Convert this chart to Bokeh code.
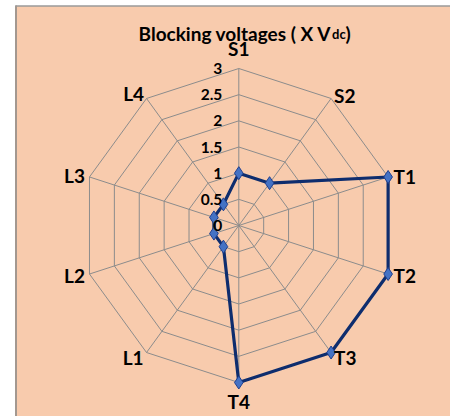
import numpy as np
from bokeh.plotting import figure
from bokeh.models import Range1d, ColumnDataSource
from bokeh.embed import file_html
from bokeh.resources import INLINE
from bokeh.core.properties import value

# ---- data ----
categories = ["S1", "S2", "T1", "T2", "T3", "T4", "L1", "L2", "L3", "L4"]
voltages = [1, 1, 3, 3, 3, 3, 0.5, 0.5, 0.5, 0.5]
ring_levels = [0.5, 1, 1.5, 2, 2.5, 3]
tick_values = [0, 0.5, 1, 1.5, 2, 2.5, 3]
tick_labels = ["0", "0.5", "1", "1.5", "2", "2.5", "3"]
title_main = "Blocking voltages ( X V"
title_sub = "dc"
title_end = ")"

# ---- layout ----
W, H = 450, 416
CX, CY = 238.3, 225.0          # centre in figure pixels
PPU = 157.0 / 3.0              # pixels per unit
rmax = max(ring_levels)
FONT = "Lato"

x_range = Range1d(-CX / PPU, (W - CX) / PPU)
y_range = Range1d(-(H - CY) / PPU, CY / PPU)

p = figure(width=W, height=H, x_range=x_range, y_range=y_range,
           x_axis_type=None, y_axis_type=None,
           output_backend="svg", toolbar_location=None,
           min_border=0, background_fill_color="white",
           border_fill_color="white", outline_line_color=None)
p.grid.visible = False

def px_x(sx):
    return (sx - CX) / PPU

def px_y(sy):
    return (CY - sy) / PPU

# peach panel with grey border
p.quad(left=px_x(16.5), right=x_range.end, bottom=y_range.start, top=px_y(5.5),
       fill_color="#F8CBAD", line_color=None)
p.segment(x0=px_x(15.5), y0=y_range.start, x1=px_x(15.5), y1=px_y(5),
          line_color="#A39890", line_width=2)
p.segment(x0=px_x(15), y0=px_y(5.5), x1=x_range.end, y1=px_y(5.5),
          line_color="#9A9A9A", line_width=1.5)

n = len(categories)
theta = np.arange(n) * 2 * np.pi / n
sx, cy_ = np.sin(theta), np.cos(theta)

# rings
ring_xs = [list(np.append(r * sx, r * sx[0])) for r in ring_levels]
ring_ys = [list(np.append(r * cy_, r * cy_[0])) for r in ring_levels]
p.multi_line(ring_xs, ring_ys, line_color="#8C8C8C", line_width=1)

# spokes
p.segment(x0=np.zeros(n), y0=np.zeros(n), x1=rmax * sx, y1=rmax * cy_,
          line_color="#8C8C8C", line_width=1)

# series
v = np.array(voltages, dtype=float)
xs = v * sx
ys = v * cy_
p.line(np.append(xs, xs[0]), np.append(ys, ys[0]), line_color="#0E2D6E", line_width=3.2)
p.scatter(xs, ys, marker="diamond", size=13, fill_color="#4472C4",
          line_color="#1F3F8F", line_width=1)

# radial tick labels
p.text(x=[px_x(CX - 16.5)] * len(tick_values), y=tick_values, text=tick_labels,
       text_align="right", text_baseline="middle", text_font=value(FONT),
       text_font_style="bold", text_font_size="15.5px", text_color="black")

# category labels
dx_px = [0, 3, 5.5, 5.5, 3, 0, -3, -4.5, -4.5, -2.5]
dy_px = [-20, -3, -0.5, 1.5, 5, 18.5, 5, 1.5, -1.5, -4.7]
aligns = ["center", "left", "left", "left", "left", "center", "right", "right", "right", "right"]
lab_src = ColumnDataSource(dict(
    x=rmax * sx + np.array(dx_px) / PPU,
    y=rmax * cy_ - np.array(dy_px) / PPU,
    text=categories, align=aligns))
p.text(x="x", y="y", text="text", source=lab_src, text_align="align",
       text_baseline="middle", text_font=value(FONT), text_font_style="bold",
       text_font_size="19px", text_color="black")

# title
p.text(x=[px_x(331)], y=[px_y(33)], text=[title_main], text_align="right",
       text_baseline="alphabetic", text_font=value(FONT), text_font_style="bold",
       text_font_size="19px", text_color="black")
p.text(x=[px_x(331.5)], y=[px_y(33.5)], text=[title_sub], text_align="left",
       text_baseline="alphabetic", text_font=value(FONT), text_font_style="bold",
       text_font_size="13px", text_color="black")
p.text(x=[px_x(345)], y=[px_y(33)], text=[title_end], text_align="left",
       text_baseline="alphabetic", text_font=value(FONT), text_font_style="bold",
       text_font_size="19px", text_color="black")

open("out.html", "w").write(file_html(p, INLINE))
